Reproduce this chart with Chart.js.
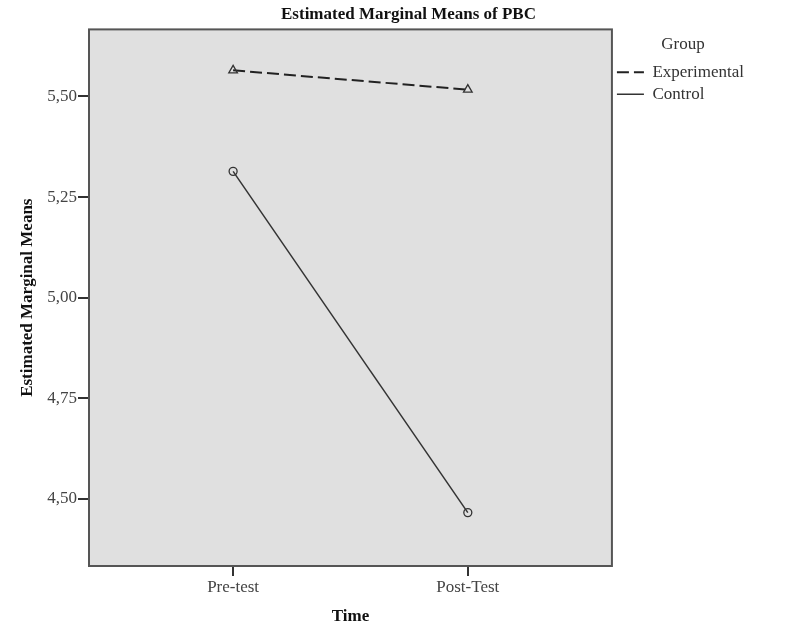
<!DOCTYPE html>
<html>
<head>
<meta charset="utf-8">
<script src="https://cdn.jsdelivr.net/npm/chart.js@4/dist/chart.umd.min.js"></script>
<style>
  body { margin: 0; background: #fff; }
  canvas { display: block; }
</style>
</head>
<body>
<canvas id="chart" width="810" height="638"></canvas>
<script>
// values
const timeLabels = ['Pre-test', 'Post-Test'];
const groupNames = ['Experimental', 'Control'];
const experimentalMeans = [5.565, 5.517];
const controlMeans = [5.314, 4.466];
const yTickValues = [4.50, 4.75, 5.00, 5.25, 5.50];

const serif = "'Liberation Serif', 'Times New Roman', serif";

function toPoints(values) {
    return values.map((v, i) => ({ x: i + 1, y: v }));
}

// grey plot panel with a dark frame, like SPSS
const plotPanel = {
    id: 'plotPanel',
    afterLayout(chart) {
        // center the main title over the whole page, not only left of the legend
        if (chart.titleBlock) {
            chart.titleBlock.left = 7;
            chart.titleBlock.right = 810;
            chart.titleBlock.width = 803;
        }
    },
    beforeDraw(chart) {
        const { ctx, chartArea: a } = chart;
        ctx.save();
        ctx.fillStyle = '#e0e0e0';
        ctx.fillRect(a.left, a.top, a.right - a.left, a.bottom - a.top);
        ctx.restore();
    },
    beforeDatasetsDraw(chart) {
        const { ctx, chartArea: a } = chart;
        ctx.save();
        ctx.strokeStyle = '#555';
        ctx.lineWidth = 2;
        ctx.strokeRect(a.left, a.top, a.right - a.left, a.bottom - a.top);
        ctx.restore();
    }
};

let ctx = document.getElementById('chart').getContext('2d');

new Chart(ctx, {
    type: 'line',
    data: {
        datasets: [{
            label: groupNames[0],
            data: toPoints(experimentalMeans),
            borderColor: '#222',
            borderWidth: 2,
            borderDash: [12, 5],
            pointStyle: 'triangle',
            pointRadius: 5,
            pointBorderWidth: 1.3,
            pointBorderColor: '#333',
            pointBackgroundColor: 'rgba(0,0,0,0)',
            fill: false
        }, {
            label: groupNames[1],
            data: toPoints(controlMeans),
            borderColor: '#333',
            borderWidth: 1.5,
            pointStyle: 'circle',
            pointRadius: 4,
            pointBorderWidth: 1.3,
            pointBorderColor: '#333',
            pointBackgroundColor: 'rgba(0,0,0,0)',
            fill: false
        }]
    },
    options: {
        responsive: false,
        animation: false,
        layout: { padding: { top: 0, left: 0, right: 56, bottom: 0 } },
        plugins: {
            title: {
                display: true,
                text: 'Estimated Marginal Means of PBC',
                color: '#111',
                font: { family: serif, size: 17, weight: 'bold' },
                padding: { top: 4, bottom: 5 }
            },
            legend: {
                position: 'right',
                align: 'start',
                fullSize: false,
                title: {
                    display: true,
                    text: 'Group',
                    color: '#333',
                    font: { family: serif, size: 17 },
                    padding: { top: 7, bottom: 2 }
                },
                labels: {
                    color: '#333',
                    font: { family: serif, size: 17 },
                    usePointStyle: true,
                    pointStyleWidth: 27,
                    padding: 5,
                    generateLabels: chart => chart.data.datasets.map((ds, i) => ({
                        text: ds.label,
                        strokeStyle: ds.borderColor,
                        fillStyle: ds.borderColor,
                        lineWidth: ds.borderWidth,
                        lineDash: ds.borderDash || [],
                        pointStyle: 'line',
                        fontColor: '#333',
                        datasetIndex: i,
                        hidden: false
                    }))
                }
            },
            tooltip: { enabled: false }
        },
        scales: {
            x: {
                type: 'linear',
                min: 0.386,
                max: 2.614,
                afterBuildTicks: scale => {
                    scale.ticks = timeLabels.map((t, i) => ({ value: i + 1 }));
                },
                afterFit: scale => { scale.height = 72; },
                border: { display: false },
                grid: {
                    drawOnChartArea: false,
                    drawTicks: true,
                    tickLength: 10,
                    tickColor: '#333',
                    lineWidth: 2
                },
                ticks: {
                    padding: 1,
                    color: '#444',
                    font: { family: serif, size: 17 },
                    callback: value => timeLabels[value - 1]
                },
                title: {
                    display: true,
                    text: 'Time',
                    color: '#111',
                    font: { family: serif, size: 17, weight: 'bold' },
                    padding: { top: 4, bottom: 11 }
                }
            },
            y: {
                min: 4.3333,
                max: 5.6667,
                afterBuildTicks: scale => {
                    scale.ticks = yTickValues.map(v => ({ value: v }));
                },
                afterFit: scale => { scale.width = 89; },
                border: { display: false },
                grid: {
                    drawOnChartArea: false,
                    drawTicks: true,
                    tickLength: 11,
                    tickColor: '#333',
                    lineWidth: 2
                },
                ticks: {
                    padding: 1,
                    color: '#444',
                    font: { family: serif, size: 17 },
                    callback: value => value.toFixed(2).replace('.', ',')
                },
                title: {
                    display: true,
                    text: 'Estimated Marginal Means',
                    color: '#111',
                    font: { family: serif, size: 17, weight: 'bold' },
                    padding: { top: 17, bottom: 4 }
                }
            }
        }
    },
    plugins: [plotPanel]
});
</script>
</body>
</html>
